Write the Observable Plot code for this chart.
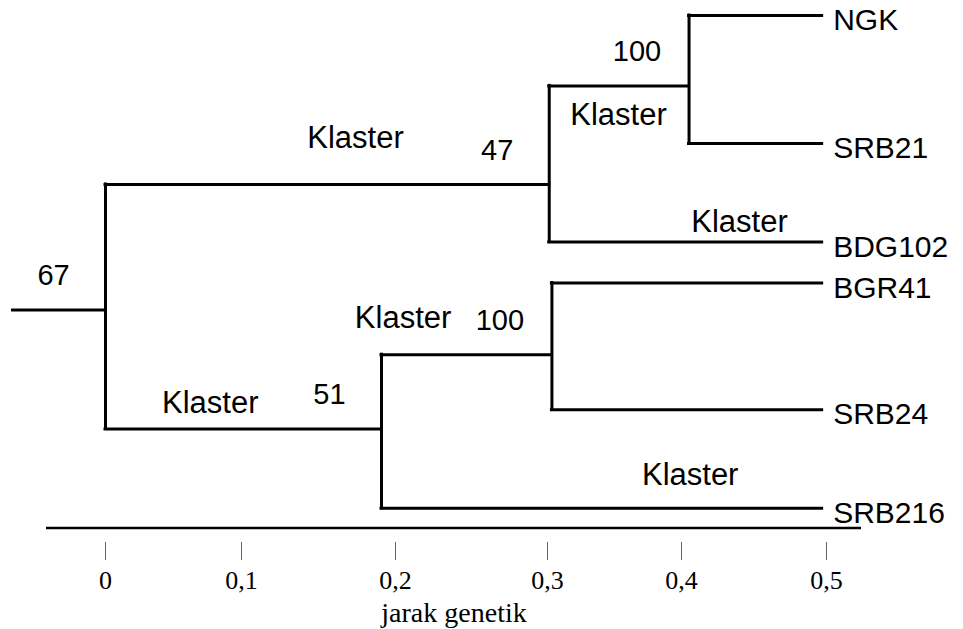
<!DOCTYPE html>
<html>
<head>
<meta charset="utf-8">
<script src="https://cdn.jsdelivr.net/npm/d3@7"></script>
<script src="https://cdn.jsdelivr.net/npm/@observablehq/plot@0.6"></script>
<style>
  html, body { margin: 0; padding: 0; background: #fff; }
  #chart svg { display: block; }
</style>
</head>
<body>
<div id="chart"></div>
<script>
// ---- Data ----
// Axis ticks (genetic distance) and their printed labels
const tickValues = [0, 0.1, 0.2, 0.3, 0.4, 0.5];
const tickLabels = ["0", "0,1", "0,2", "0,3", "0,4", "0,5"];

// Leaves (accessions): name, vertical order position, distance, parent cluster
const leafNames  = ["NGK", "SRB21", "BDG102", "BGR41", "SRB24", "SRB216"];
const leafRow    = [0, 1, 1.77, 2.09, 3.08, 3.85];
const leafJarak  = [0.497, 0.497, 0.497, 0.497, 0.497, 0.497];
const leafParent = ["B", "B", "A", "D", "D", "C"];

// Internal nodes: id, distance, row of the branch joining its parent, parent, bootstrap
const nodeIds    = ["akar", "A", "B", "C", "D"];
const nodeJarak  = [0, 0.3013, 0.4052, 0.1909, 0.3033];
const nodeRow    = [2.30, 1.32, 0.55, 3.23, 2.65];
const nodeParent = [null, "akar", "A", "akar", "C"];
const bootstrap  = [67, 47, 100, 51, 100];
const rootStubJarak = -0.068;

// "Klaster" annotations (distance, row)
const klasterJarak = [0.174, 0.353, 0.44, 0.205, 0.077, 0.406];
const klasterRow   = [0.961, 0.781, 1.61, 2.36, 3.03, 3.594];

const axisTitle = "jarak genetik";

// ---- Build tables ----
const nodes = nodeIds.map((id, i) => ({id, jarak: nodeJarak[i], baris: nodeRow[i], parent: nodeParent[i], bootstrap: bootstrap[i]}));
const leaves = leafNames.map((id, i) => ({id, jarak: leafJarak[i], baris: leafRow[i], parent: leafParent[i]}));
const all = [...nodes, ...leaves];
const byId = new Map(all.map(d => [d.id, d]));
const hSeg = all.map(d => ({x1: d.parent ? byId.get(d.parent).jarak : rootStubJarak, x2: d.jarak, y: d.baris}));
const vSeg = nodes.map(n => {
  const kids = all.filter(c => c.parent === n.id);
  return {x: n.jarak, y1: d3.min(kids, c => c.baris), y2: d3.max(kids, c => c.baris)};
});
const klaster = klasterJarak.map((j, i) => ({jarak: j, baris: klasterRow[i]}));

const SANS = "'Liberation Sans', Arial, Helvetica, sans-serif";
const SERIF = "'Liberation Serif', 'Times New Roman', Times, serif";

// baseline of the axis: a custom mark drawn along the bottom of the frame
function axisLine(index, scales, values, dims) {
  const y = dims.height - dims.marginBottom;
  return d3.create("svg:line")
    .attr("x1", dims.marginLeft).attr("x2", dims.width - dims.marginRight)
    .attr("y1", y).attr("y2", y)
    .attr("stroke", "black").attr("stroke-width", 2.5)
    .node();
}

const chart = Plot.plot({
  width: 963,
  height: 629,
  marginTop: 0,
  marginLeft: 46,
  marginRight: 102,
  marginBottom: 101,
  x: {type: "linear", domain: tickValues, range: [105, 241, 395, 547, 681, 826], axis: null},
  y: {type: "linear", domain: [0, 3.85], range: [15, 507.8], axis: null},
  style: {background: "white", color: "black"},
  marks: [
    Plot.ruleY(hSeg, {x1: "x1", x2: "x2", y: "y", stroke: "black", strokeWidth: 3, strokeLinecap: "square"}),
    Plot.ruleX(vSeg, {x: "x", y1: "y1", y2: "y2", stroke: "black", strokeWidth: 3, strokeLinecap: "square"}),
    Plot.text(leaves, {x: "jarak", y: "baris", text: "id", textAnchor: "start", dx: 11, dy: 5,
      fontSize: 30, fontFamily: SANS, fill: "black"}),
    Plot.text(nodes, {x: "jarak", y: "baris", text: d => String(d.bootstrap), dx: -52, dy: -34,
      fontSize: 29, fontFamily: SANS, fill: "black"}),
    Plot.text(klaster, {x: "jarak", y: "baris", text: () => "Klaster",
      fontSize: 31, fontFamily: SANS, fill: "black"}),
    axisLine,
    Plot.axisX({ticks: tickValues, tickFormat: d => tickLabels[tickValues.indexOf(d)],
      tickSize: 18, tickPadding: 10, dy: 14, stroke: "#666", strokeWidth: 1, fill: "black",
      fontSize: 26, fontFamily: SERIF, label: null}),
    Plot.text([axisTitle], {frameAnchor: "bottom", dy: 93, fontSize: 28, fontFamily: SERIF, fill: "black"})
  ]
});

document.getElementById("chart").appendChild(chart);
</script>
</body>
</html>
